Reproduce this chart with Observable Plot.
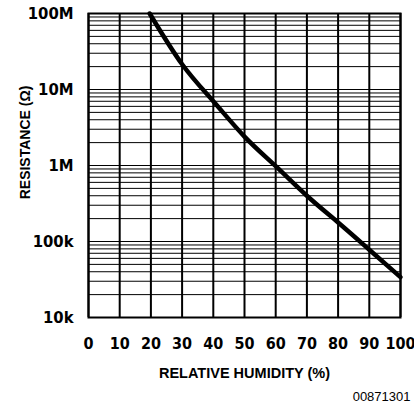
<!DOCTYPE html>
<html>
<head>
<meta charset="utf-8">
<script src="https://cdn.jsdelivr.net/npm/d3@7"></script>
<script src="https://cdn.jsdelivr.net/npm/@observablehq/plot@0.6"></script>
<style>
  html, body { margin: 0; padding: 0; background: #fff; }
  #chart { width: 414px; height: 409px; }
</style>
</head>
<body>
<div id="chart"></div>
<script>
// Data
const humidity   = [19.6, 30, 40, 50, 60, 70, 80, 90, 100];
const resistance = [1e8, 2.15e7, 7.0e6, 2.4e6, 9.8e5, 4.0e5, 1.78e5, 7.8e4, 3.4e4];
const xTicks = [0, 10, 20, 30, 40, 50, 60, 70, 80, 90, 100];
const yTicks = [1e4, 1e5, 1e6, 1e7, 1e8];
const yTickLabels = ["10k", "100k", "1M", "10M", "100M"];
const xTitle = "RELATIVE HUMIDITY (%)";
const yTitle = "RESISTANCE (Ω)";
const figureCode = "00871301";

const curve = humidity.map((h, i) => ({h, r: resistance[i]}));
const minorGrid = [];
for (let d = 4; d < 8; d++) for (let m = 1; m <= 9; m++) minorGrid.push(m * 10 ** d);
minorGrid.push(1e8);

const narrow = "'Liberation Sans Narrow', 'DejaVu Sans Condensed', 'Arial Narrow', sans-serif";
const bold = "'Liberation Sans', Arial, sans-serif";

const chart = Plot.plot({
  width: 414,
  height: 409,
  marginLeft: 88,
  marginRight: 14,
  marginTop: 13,
  marginBottom: 92,
  style: {fontFamily: narrow, color: "#000", background: "#fff", overflow: "visible"},
  x: {domain: [0, 100]},
  y: {type: "log", domain: [1e4, 1e8]},
  marks: [
    Plot.ruleY(minorGrid, {stroke: "#000", strokeWidth: 1}),
    Plot.ruleX(xTicks, {stroke: "#000", strokeWidth: 2}),
    Plot.frame({stroke: "#000", strokeWidth: 2}),
    Plot.axisX({ticks: xTicks, tickSize: 0, tickPadding: 20, label: null,
      fontSize: 16, fontWeight: "bold", fontFamily: narrow}),
    Plot.axisY({ticks: yTicks, tickSize: 0, tickPadding: 15, label: null,
      tickFormat: (d) => yTickLabels[yTicks.indexOf(d)],
      fontSize: 16.5, fontWeight: "bold", fontFamily: narrow, letterSpacing: 0.5}),
    Plot.line(curve, {x: "h", y: "r", curve: "natural", stroke: "#000", strokeWidth: 4.5}),
    Plot.text([xTitle], {frameAnchor: "bottom", lineAnchor: "middle", textAnchor: "middle",
      dy: 56, text: (d) => d,
      fontSize: 14.5, fontWeight: "bold", fontFamily: bold, letterSpacing: 1.2, fill: "#000"}),
    Plot.text([yTitle], {frameAnchor: "left", lineAnchor: "middle", textAnchor: "middle",
      dx: -63, dy: -23, rotate: -90, text: (d) => d,
      fontSize: 14, fontWeight: "bold", fontFamily: bold, letterSpacing: 0.9, fill: "#000"}),
    Plot.text([figureCode], {frameAnchor: "bottom-right", lineAnchor: "middle", textAnchor: "end",
      dx: 10, dy: 79, text: (d) => d, fontSize: 13, fontFamily: bold, fill: "#000"})
  ]
});
document.getElementById("chart").appendChild(chart);
</script>
</body>
</html>
